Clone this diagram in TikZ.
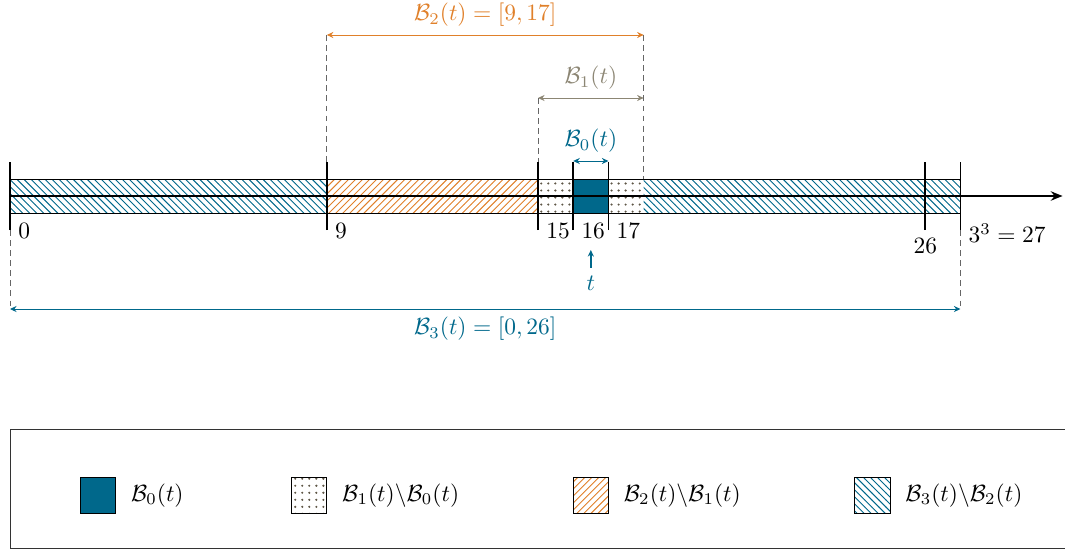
\documentclass[tikz,border=0pt]{standalone}
\usepackage{amsfonts,amssymb,amsmath}
\usepackage{xcolor}
\usepackage{tikz}
\usetikzlibrary{arrows.meta,patterns,positioning}
\definecolor{bblue}{HTML}{00688B}
\definecolor{borange}{HTML}{E0802A}
\definecolor{bgray}{HTML}{8C8674}
\definecolor{bdots}{HTML}{5E5646}

\begin{document}
\begin{tikzpicture}[x=0.528cm,y=1cm,>={Stealth[length=2.8pt,width=2.6pt]},
  tick/.style={thick},
  guide/.style={black!60,dash pattern=on 2.5pt off 1.8pt},
  span/.style={<->,thin},
  legsq/.style={draw,thin,minimum size=0.528cm,inner sep=0pt}]
\clip(-0.284,-5.295)rectangle(29.97,2.94);
\fill[pattern=north west lines,pattern color=bblue](0,-0.255)rectangle(9,0.255)(18,-0.255)rectangle(27,0.255);
\fill[pattern=north east lines,pattern color=borange](9,-0.255)rectangle(15,0.255);
\fill[pattern=dots,pattern color=bdots](15,-0.255)rectangle(18,0.255);
\fill[bblue](16,-0.255)rectangle(17,0.255);
\draw[thin](0,-0.255)rectangle(27,0.255);
\coordinate(o)at(0,0);
\coordinate(tip)at(29.9,0);
\draw[thick,-{Stealth[length=5pt,width=4pt]}](o)--(tip);
\foreach \k in {0,9,15,16,17,26,27}
  \draw[tick](\k,-0.51)coordinate(lo\k)--(\k,0.51)coordinate(hi\k);
\node[below right](n0)at(0,-0.29){$0$};
\node[below right](n9)at(9,-0.29){$9$};
\node[below right](n15)at(15,-0.29){$15$};
\node[below right](n16)at(16,-0.29){$16$};
\node[below right](n17)at(17,-0.29){$17$};
\node[below](n26)at(lo26){$26$};
\node[below right](n27)at(27,-0.29){$3^3=27$};
% ranges
\coordinate(b0l)at(16,0.525);
\coordinate(b0r)at(17,0.525);
\draw[span,bblue](b0l)--node[above](b0lab){$\mathcal{B}_0(t)$}(b0r);
\coordinate(b1l)at(15,1.47);
\coordinate(b1r)at(18,1.47);
\draw[span,bgray](b1l)--node[above](b1lab){$\mathcal{B}_1(t)$}(b1r);
\coordinate(b2l)at(9,2.415);
\coordinate(b2r)at(18,2.415);
\draw[span,borange](b2l)--node[above](b2lab){$\mathcal{B}_2(t)=[9,17]$}(b2r);
\coordinate(b3l)at(0,-1.695);
\coordinate(b3r)at(27,-1.695);
\draw[span,bblue](b3l)--node[below](b3lab){$\mathcal{B}_3(t)=[0,26]$}(b3r);
\coordinate(top18)at(18,0.255);
\draw[guide](b2l)--(hi9);
\draw[guide](b2r)--(top18);
\draw[guide](b1l)--(hi15);
\draw[guide](lo0)--(b3l);
\draw[guide](lo27)--(b3r);
\node[bblue](tlab)at(16.5,-1.305){$t$};
\coordinate(tpt)at(16.5,-0.81);
\draw[->,bblue,semithick](tlab)--(tpt);
% legend
\draw[black!80](0,-3.495)rectangle(31,-5.28);
\node[legsq,fill=bblue](sq0)at(2.5,-4.4925){};
\node[right=0.1cm of sq0](lab0){$\mathcal{B}_0(t)$};
\node[legsq,pattern=dots,pattern color=bdots](sq1)at(8.5,-4.4925){};
\node[right=0.1cm of sq1](lab1){$\mathcal{B}_1(t)\backslash\mathcal{B}_0(t)$};
\node[legsq,pattern=north east lines,pattern color=borange](sq2)at(16.5,-4.4925){};
\node[right=0.1cm of sq2](lab2){$\mathcal{B}_2(t)\backslash\mathcal{B}_1(t)$};
\node[legsq,pattern=north west lines,pattern color=bblue](sq3)at(24.5,-4.4925){};
\node[right=0.1cm of sq3](lab3){$\mathcal{B}_3(t)\backslash\mathcal{B}_2(t)$};
\end{tikzpicture}
\end{document}
